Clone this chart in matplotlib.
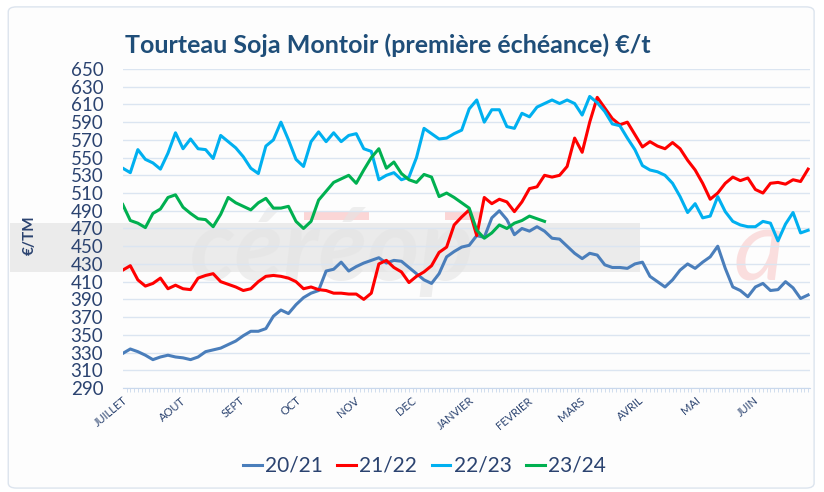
import matplotlib
matplotlib.use('Agg')
import matplotlib.pyplot as plt
from matplotlib.patches import Rectangle, FancyBboxPatch
from matplotlib.ticker import MultipleLocator

plt.rcParams['font.family'] = ['Lato', 'DejaVu Sans']

# Days since 1 July, one reading every 4 days
days = list(range(0, 365, 4))

months = ['JUILLET', 'AOUT', 'SEPT', 'OCT', 'NOV', 'DEC',
          'JANVIER', 'FEVRIER', 'MARS', 'AVRIL', 'MAI', 'JUIN']
month_start = [0, 31, 62, 92, 123, 153, 184, 215, 243, 274, 304, 335]

# Prices in €/t
s_2021 = [329, 334, 331, 327, 322, 325, 327, 325, 324, 322,
          325, 331, 333, 335, 339, 343, 349, 354, 354, 357,
          371, 378, 374, 384, 392, 397, 400, 422, 424, 432,
          422, 427, 431, 434, 437, 431, 434, 433, 426, 419,
          412, 408, 419, 438, 444, 449, 451, 462, 460, 482,
          490, 480, 463, 470, 467, 472, 467, 459, 458, 450,
          442, 436, 442, 440, 429, 426, 426, 425, 430, 432,
          416, 410, 404, 412, 423, 430, 425, 432, 438, 450,
          425, 404, 400, 393, 404, 408, 400, 401, 410, 403,
          391, 395]

s_2122 = [423, 428, 412, 405, 408, 414, 402, 406, 402, 401,
          414, 417, 419, 410, 407, 404, 400, 402, 410, 416,
          417, 416, 414, 410, 402, 404, 401, 400, 397, 397,
          396, 396, 390, 397, 430, 434, 426, 421, 409, 416,
          421, 428, 443, 449, 474, 483, 491, 462, 505, 498,
          503, 500, 489, 500, 515, 517, 530, 528, 530, 540,
          572, 556, 590, 618, 606, 594, 587, 590, 576, 562,
          568, 563, 560, 567, 560, 547, 536, 521, 503, 510,
          521, 528, 524, 527, 514, 510, 521, 522, 520, 525,
          523, 537]

s_2223 = [538, 533, 559, 548, 544, 537, 555, 578, 560, 571,
          560, 559, 549, 575, 568, 561, 551, 538, 532, 563,
          570, 590, 570, 548, 540, 568, 579, 568, 578, 568,
          575, 577, 560, 557, 525, 530, 533, 525, 528, 550,
          583, 577, 571, 572, 577, 581, 605, 615, 590, 604,
          604, 585, 583, 600, 596, 607, 611, 615, 611, 615,
          611, 598, 619, 612, 602, 588, 586, 572, 559, 541,
          536, 534, 530, 521, 506, 488, 498, 482, 484, 506,
          489, 478, 474, 472, 472, 478, 476, 456, 475, 488,
          465, 468]

s_2324 = [497, 479, 476, 471, 487, 492, 505, 508, 494, 487,
          481, 480, 472, 486, 505, 499, 495, 491, 499, 504,
          493, 493, 495, 478, 470, 478, 502, 512, 522, 526,
          530, 521, 536, 550, 560, 538, 545, 532, 525, 522,
          531, 528, 506, 510, 505, 499, 493, 468, 459, 465,
          474, 470, 476, 479, 484, 481, 478]

series = [('20/21', s_2021, '#4a7ebb'),
          ('21/22', s_2122, '#ff0000'),
          ('22/23', s_2223, '#00b0f0'),
          ('23/24', s_2324, '#00b050')]

text_col = '#2b4370'

fig = plt.figure(figsize=(8.24, 4.92), dpi=100)
fig.patch.set_facecolor('white')

# frame round the chart
fig.patches.append(FancyBboxPatch((0.01, 0.008), 0.978, 0.978,
                                  boxstyle='round,pad=0,rounding_size=0.01',
                                  transform=fig.transFigure, facecolor='#fdfdfd',
                                  edgecolor='#dce4ee', lw=1, zorder=-3))

# watermark (grey band + logo letters)
fig.patches.append(Rectangle((0.012, 0.447), 0.765, 0.1, transform=fig.transFigure,
                             facecolor='#ebebeb', edgecolor='none', zorder=-2))
fig.patches.append(Rectangle((0.369, 0.553), 0.079, 0.016, transform=fig.transFigure,
                             facecolor='#fbd6d6', edgecolor='none', zorder=-2))
fig.patches.append(Rectangle((0.54, 0.553), 0.043, 0.016, transform=fig.transFigure,
                             facecolor='#fbd6d6', edgecolor='none', zorder=-2))
fig.text(0.23, 0.43, 'céréop', fontsize=72, fontweight='bold', style='italic',
         color='#e4e4e4', alpha=0.6, zorder=-1)
fig.text(0.89, 0.43, 'a', fontsize=72, style='italic',
         color='#f9d2d2', alpha=0.7, zorder=-1)

ax = fig.add_axes([0.149, 0.2114, 0.834, 0.6484])
ax.set_facecolor('none')

for label, vals, col in series:
    ax.plot(days[:len(vals)], vals, color=col, lw=2.2, label=label)

ax.set_xlim(0, 365)
ax.set_ylim(290, 650)
ax.set_yticks(range(290, 651, 20))
ax.yaxis.grid(True, color='#dbe5f1', lw=1)
ax.set_axisbelow(True)

for side in ['left', 'top', 'right']:
    ax.spines[side].set_visible(False)
ax.spines['bottom'].set_color('#c9d8ec')

ax.tick_params(axis='y', length=0, pad=14, labelsize=13.5, labelcolor=text_col)
ax.set_xticks(month_start)
ax.set_xticklabels(months, rotation=40, ha='right', va='top',
                   rotation_mode='anchor', fontsize=8, color=text_col)
ax.tick_params(axis='x', which='major', length=0, pad=5)
ax.xaxis.set_minor_locator(MultipleLocator(2))
ax.tick_params(axis='x', which='minor', length=3, color='#c9d8ec')

fig.text(0.152, 1 - 45 / 492, 'Tourteau Soja Montoir (première échéance) €/t',
         fontsize=18, fontweight='bold', color='#1f4e79', va='center', ha='left')
fig.text(30 / 824, 1 - 235 / 492, '€/TM', rotation=90, fontsize=11,
         fontweight='bold', color=text_col, va='center', ha='center')

fig.legend(loc='center', bbox_to_anchor=(0.515, 0.053), ncol=4, frameon=False,
           fontsize=15, handlelength=0.9, handletextpad=0.15, columnspacing=0.7,
           labelcolor=text_col)

fig.savefig('out.png', dpi=100)
